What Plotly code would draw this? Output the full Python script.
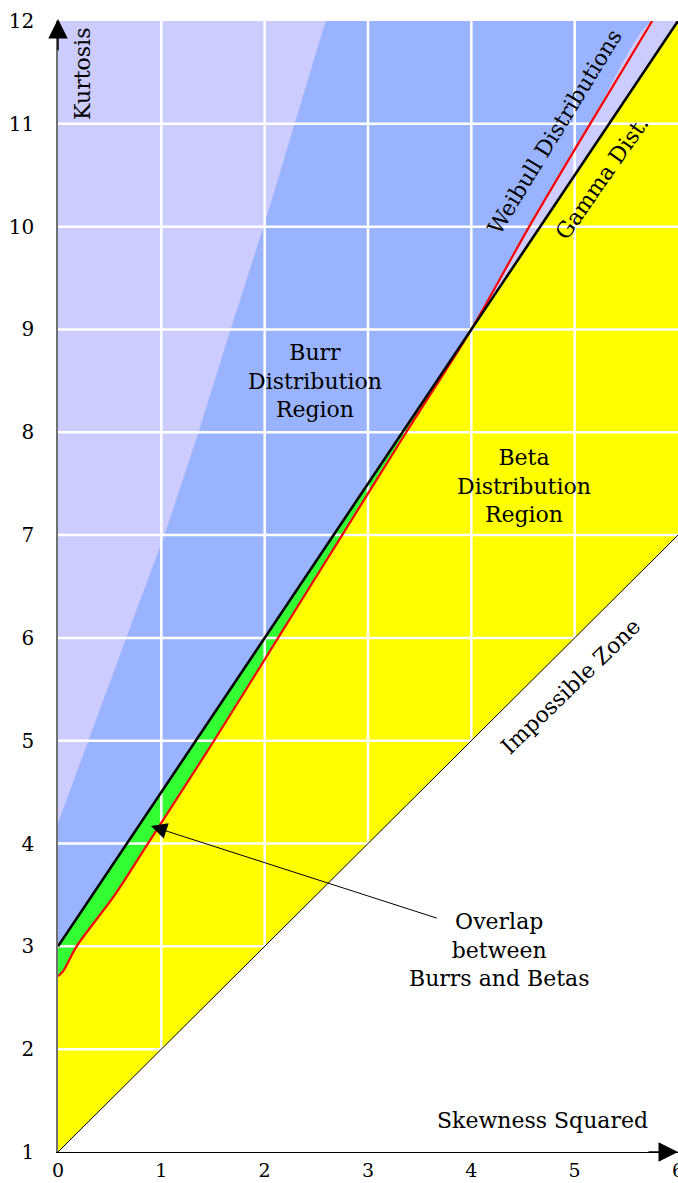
import plotly.graph_objects as go

# Axis ticks
skew_ticks = [0, 1, 2, 3, 4, 5, 6]
kurt_ticks = [1, 2, 3, 4, 5, 6, 7, 8, 9, 10, 11, 12]

# Gamma line (kurtosis = 3 + 1.5 * skewness^2)
gamma_x = [0, 6]
gamma_y = [3, 12]

# Lower limit of all distributions (kurtosis = 1 + skewness^2)
impossible_x = [0, 6]
impossible_y = [1, 7]

# Weibull curve
weibull_x = [0.00, 0.05, 0.18, 0.55, 0.87, 1.51, 2.13, 2.75, 3.37, 4.00, 4.56, 5.15, 5.75]
weibull_y = [2.71, 2.76, 3.00, 3.50, 4.00, 5.00, 6.00, 7.00, 8.00, 9.00, 10.00, 11.00, 12.00]

# Upper edge of the Burr region
burr_top_x = [0.00, 0.29, 0.66, 1.03, 1.36, 1.67, 1.99, 2.29, 2.59]
burr_top_y = [4.20, 5.00, 6.00, 7.00, 8.00, 9.00, 10.00, 11.00, 12.00]

X_MIN, X_MAX = skew_ticks[0], skew_ticks[-1]
Y_MIN, Y_MAX = kurt_ticks[0], kurt_ticks[-1]

LAVENDER = "#ccccff"
BLUE = "#99b3ff"
GREEN = "#33ff33"
YELLOW = "#ffff00"
FONT = "DejaVu Serif"

fig = go.Figure()


def area(xs, ys, color, shape="linear"):
    fig.add_trace(go.Scatter(x=xs, y=ys, mode="lines", fill="toself",
                             fillcolor=color,
                             line=dict(width=0, shape=shape, smoothing=0.9),
                             hoverinfo="skip", showlegend=False))


def line(xs, ys, color, width, shape="linear"):
    fig.add_trace(go.Scatter(x=xs, y=ys, mode="lines",
                             line=dict(color=color, width=width, shape=shape,
                                       smoothing=0.9),
                             hoverinfo="skip", showlegend=False))


# Burr region: everything above the gamma line
area(gamma_x + [X_MIN], gamma_y + [Y_MAX], BLUE)

# Beyond the Burr upper edge
area(burr_top_x + [X_MIN], burr_top_y + [Y_MAX], LAVENDER)

# Beta region: between the lower limit and the gamma line
area(impossible_x + gamma_x[::-1], impossible_y + gamma_y[::-1], YELLOW)

# Overlap of Burr and Beta: between Weibull and gamma, left of the crossing
low = [(x, y) for x, y in zip(weibull_x, weibull_y) if x <= 4]
area([p[0] for p in low] + [gamma_x[0]], [p[1] for p in low] + [gamma_y[0]],
     GREEN, "spline")

# Strip between gamma and Weibull right of the crossing
high = [(x, y) for x, y in zip(weibull_x, weibull_y) if x >= 4]
area([p[0] for p in high] + [gamma_x[-1]], [p[1] for p in high] + [gamma_y[-1]],
     LAVENDER, "spline")

# White grid drawn over the filled regions
for gx in skew_ticks[1:-1]:
    line([gx, gx], [Y_MIN, Y_MAX], "white", 2.5)
for gy in kurt_ticks[1:-1]:
    line([X_MIN, X_MAX], [gy, gy], "white", 2.5)

line(impossible_x, impossible_y, "black", 1)
line(weibull_x, weibull_y, "#ff0000", 2.2, "spline")
line(gamma_x, gamma_y, "black", 2.6)

txt = dict(family=FONT, size=22, color="black")

annotations = [
    dict(x=2.49, y=8.50, text="Burr<br>Distribution<br>Region"),
    dict(x=4.51, y=7.48, text="Beta<br>Distribution<br>Region"),
    dict(x=4.27, y=2.96, text="Overlap<br>between<br>Burrs and Betas"),
    dict(x=4.80, y=10.92, text="Weibull Distributions", textangle=-58.5),
    dict(x=5.26, y=10.47, text="Gamma Dist.", textangle=-55),
    dict(x=4.96, y=5.53, text="Impossible Zone", textangle=-44),
    dict(x=5.73, y=1.31, text="Skewness Squared", xanchor="right"),
    dict(x=0.23, y=11.95, text="Kurtosis", textangle=-90, yanchor="top"),
]
for a in annotations:
    a.setdefault("xanchor", "center")
    a.setdefault("yanchor", "middle")
    fig.add_annotation(xref="x", yref="y", showarrow=False, font=txt, **a)

# Pointer to the overlap band
fig.add_annotation(x=0.90, y=4.17, ax=3.68, ay=3.27, xref="x", yref="y",
                   axref="x", ayref="y", text="", showarrow=True,
                   arrowhead=2, arrowsize=3.2, arrowwidth=1, arrowcolor="black",
                   standoff=0, startstandoff=0)

# Axis arrowheads
fig.add_annotation(x=X_MIN, y=Y_MAX + 0.02, ax=X_MIN, ay=Y_MAX - 0.3, xref="x", yref="y",
                   axref="x", ayref="y", text="", showarrow=True,
                   arrowhead=2, arrowsize=2.6, arrowwidth=1.5, arrowcolor="black")
fig.add_annotation(x=X_MAX, y=Y_MIN, ax=X_MAX - 0.3, ay=Y_MIN, xref="x", yref="y",
                   axref="x", ayref="y", text="", showarrow=True,
                   arrowhead=2, arrowsize=2.6, arrowwidth=1.5, arrowcolor="black")

tickfont = dict(family=FONT, size=19, color="black")
fig.update_xaxes(range=[X_MIN, X_MAX], tickvals=skew_ticks, showgrid=False,
                 zeroline=False, showline=True, linecolor="black", linewidth=1.3,
                 tickfont=tickfont, ticklabelstandoff=1, ticklabeloverflow="allow",
                 automargin=False, fixedrange=True)
fig.update_yaxes(range=[Y_MIN, Y_MAX], tickvals=kurt_ticks, showgrid=False,
                 zeroline=False, showline=True, linecolor="#707070", linewidth=1.5,
                 tickfont=dict(family=FONT, size=20, color="black"),
                 ticklabelstandoff=18, ticklabeloverflow="allow",
                 automargin=False, fixedrange=True)

fig.update_layout(width=678, height=1183, margin=dict(l=58, r=0, t=21, b=31),
                  plot_bgcolor="white", paper_bgcolor="white", showlegend=False)

fig.write_html("out.html", config={"displayModeBar": False})
